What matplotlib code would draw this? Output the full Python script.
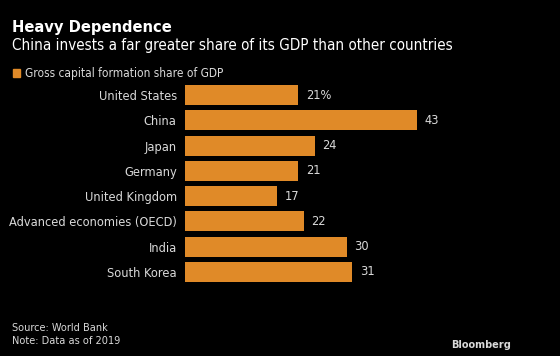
'''
Heavy Dependence - participação da formação bruta de capital no PIB
'''

import matplotlib.pyplot as plt

countries = ['United States', 'China', 'Japan', 'Germany', 'United Kingdom',
             'Advanced economies (OECD)', 'India', 'South Korea']
shares = [21, 43, 24, 21, 17, 22, 30, 31]
value_labels = ['21%', '43', '24', '21', '17', '22', '30', '31']

BG = '#000000'
BAR = '#E08A28'
TXT = '#D9D9D9'

W, H = 560, 356

plt.rcParams['font.family'] = 'DejaVu Sans'
plt.rcParams['font.stretch'] = 'condensed'


def fy(px):
    # converte pixel (a partir do topo) para coordenada da figura
    return 1 - px / H


def draw_chart():
    fig = plt.figure(figsize=(W / 100, H / 100), dpi=100, facecolor=BG)
    # barras começam em x=185, 5.4 px por unidade
    left, right = 185, 185 + 5.4 * 50
    top, bottom = 82.4, 284.6
    ax = fig.add_axes([left / W, fy(bottom), (right - left) / W, (bottom - top) / H])
    ax.set_facecolor(BG)

    y = list(range(len(countries)))
    ax.barh(y, shares, height=0.79, color=BAR)
    ax.set_xlim(0, 50)
    ax.set_ylim(len(countries) - 0.5, -0.5)

    ax.set_yticks(y)
    ax.set_yticklabels(countries, color=TXT, fontsize=9.2, stretch='condensed')
    ax.tick_params(axis='y', length=0, pad=6)
    ax.set_xticks([])
    for s in ax.spines.values():
        s.set_visible(False)

    for yi, v, lab in zip(y, shares, value_labels):
        ax.text(v + 1.4, yi, lab, color=TXT, fontsize=9.2, va='center', ha='left',
                stretch='condensed')

    fig.text(12 / W, fy(32), 'Heavy Dependence', color='white', fontsize=11.8,
             fontweight='bold', va='baseline', ha='left', stretch='condensed')
    fig.text(12 / W, fy(50),
             'China invests a far greater share of its GDP than other countries',
             color='white', fontsize=10.9, va='baseline', ha='left', stretch='condensed')

    # legenda
    fig.patches.append(plt.Rectangle((13 / W, fy(77)), 7 / W, 8 / H,
                                     transform=fig.transFigure, color=BAR))
    fig.text(25 / W, fy(77), 'Gross capital formation share of GDP',
             color=TXT, fontsize=8.6, va='baseline', ha='left', stretch='condensed')

    fig.text(12 / W, fy(331), 'Source: World Bank', color=TXT, fontsize=7.8,
             va='baseline', ha='left', stretch='condensed')
    fig.text(12 / W, fy(344), 'Note: Data as of 2019', color=TXT, fontsize=7.8,
             va='baseline', ha='left', stretch='condensed')
    fig.text(511 / W, fy(348), 'Bloomberg', color=TXT, fontsize=7.8,
             fontweight='bold', va='baseline', ha='right', stretch='condensed')

    fig.savefig('out.png', dpi=100, facecolor=BG)


if __name__ == '__main__':
    draw_chart()
